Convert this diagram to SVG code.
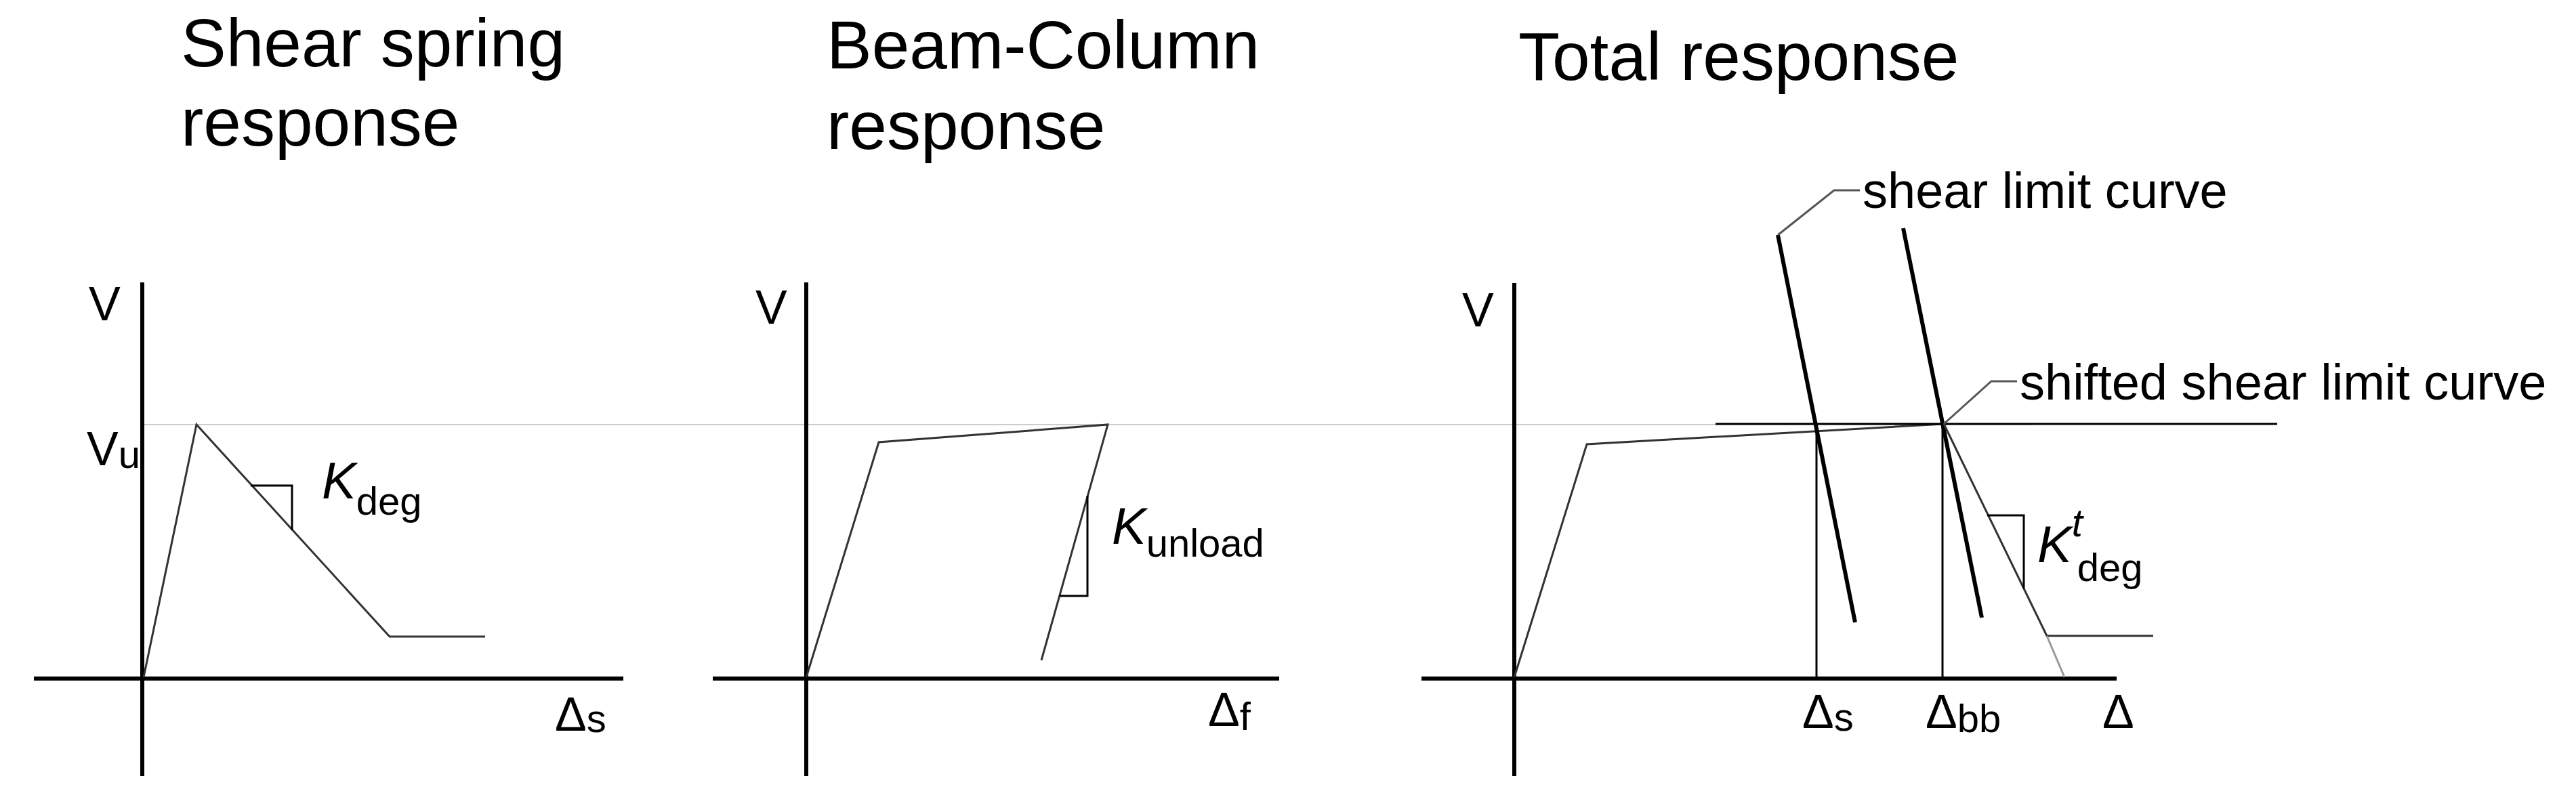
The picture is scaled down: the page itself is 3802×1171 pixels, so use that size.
<svg xmlns="http://www.w3.org/2000/svg" width="3802" height="1171" viewBox="0 0 3802 1171">
<style>
text{font-family:"Liberation Sans",Arial,sans-serif;fill:#000}
.t{font-size:100px}.l{font-size:70px}.s{font-size:58px}.k{font-size:76px;font-style:italic}
.n{font-size:74px}.i{font-style:italic}
.ax{stroke:#000;stroke-width:6;fill:none}
.c{stroke:#333;stroke-width:3;fill:none}
.th{stroke:#000;stroke-width:3;fill:none}
.sl{stroke:#000;stroke-width:6;fill:none}
.ld{stroke:#555;stroke-width:3;fill:none}
</style>
<rect width="3802" height="1171" fill="#fff"/>
<line x1="212" y1="627" x2="3000" y2="627" stroke="#ccc" stroke-width="2"/>
<g id="panel1">
<text class="t" x="267" y="98">Shear spring</text>
<text class="t" x="267" y="215">response</text>
<line class="ax" x1="210" y1="417" x2="210" y2="1146"/>
<line class="ax" x1="50" y1="1002" x2="920" y2="1002"/>
<polyline class="c" points="212,1000 290,627 575,940 716,940"/>
<polyline class="th" points="370,717 431,717 431,783"/>
<text class="l" x="131" y="473">V</text>
<text class="l" x="128" y="687">V<tspan class="s" dy="4">u</tspan></text>
<text x="475" y="736"><tspan class="k">K</tspan><tspan class="s" dy="24">deg</tspan></text>
<text class="l" x="819" y="1079">Δ<tspan class="s" dy="2">s</tspan></text>
</g>
<g id="panel2">
<text class="t" x="1220" y="101">Beam-Column</text>
<text class="t" x="1220" y="220">response</text>
<line class="ax" x1="1190" y1="417" x2="1190" y2="1146"/>
<line class="ax" x1="1052" y1="1002" x2="1888" y2="1002"/>
<polyline class="c" points="1190,1000 1297,653 1635,627 1537,975"/>
<polyline class="th" points="1605,732 1605,880 1564,880"/>
<text class="l" x="1115" y="478">V</text>
<text x="1641" y="803"><tspan class="k">K</tspan><tspan class="s" dy="19">unload</tspan></text>
<text class="l" x="1783" y="1072">Δ<tspan class="s" dy="6">f</tspan></text>
</g>
<g id="panel3">
<text class="t" x="2241" y="118">Total response</text>
<line class="ax" x1="2235" y1="418" x2="2235" y2="1146"/>
<line class="ax" x1="2098" y1="1002" x2="3124" y2="1002" stroke-width="8"/>
<polyline class="c" points="2235,1000 2342,656 2869,626"/>
<line class="th" x1="2532" y1="626" x2="3361" y2="626"/>
<line class="th" x1="2681" y1="630" x2="2681" y2="1002"/>
<line class="th" x1="2867" y1="626" x2="2867" y2="1002"/>
<line class="sl" x1="2624" y1="347" x2="2738" y2="919"/>
<line class="sl" x1="2809" y1="337" x2="2925" y2="912"/>
<polyline class="c" points="2869,626 3021,939 3178,939"/>
<line x1="3021" y1="939" x2="3047" y2="1000" stroke="#999" stroke-width="3"/>
<polyline class="th" points="2933,761 2987,761 2987,869"/>
<text class="l" x="2158" y="482">V</text>
<text x="3007" y="830"><tspan class="k">K</tspan><tspan class="s i" dy="-38">t</tspan><tspan class="s" dx="-8" dy="66">deg</tspan></text>
<text class="l" x="2660" y="1075">Δ<tspan class="s" dy="4">s</tspan></text>
<text class="l" x="2842" y="1075">Δ<tspan class="s" dy="6">bb</tspan></text>
<text class="l" x="3103" y="1075">Δ</text>
</g>
<g id="labels">
<polyline class="ld" points="2624,347 2707,281 2745,281"/>
<text class="n" x="2749" y="307">shear limit curve</text>
<polyline class="ld" points="2869,626 2939,563 2977,563"/>
<text class="n" x="2981" y="590">shifted shear limit curve</text>
</g>
</svg>
